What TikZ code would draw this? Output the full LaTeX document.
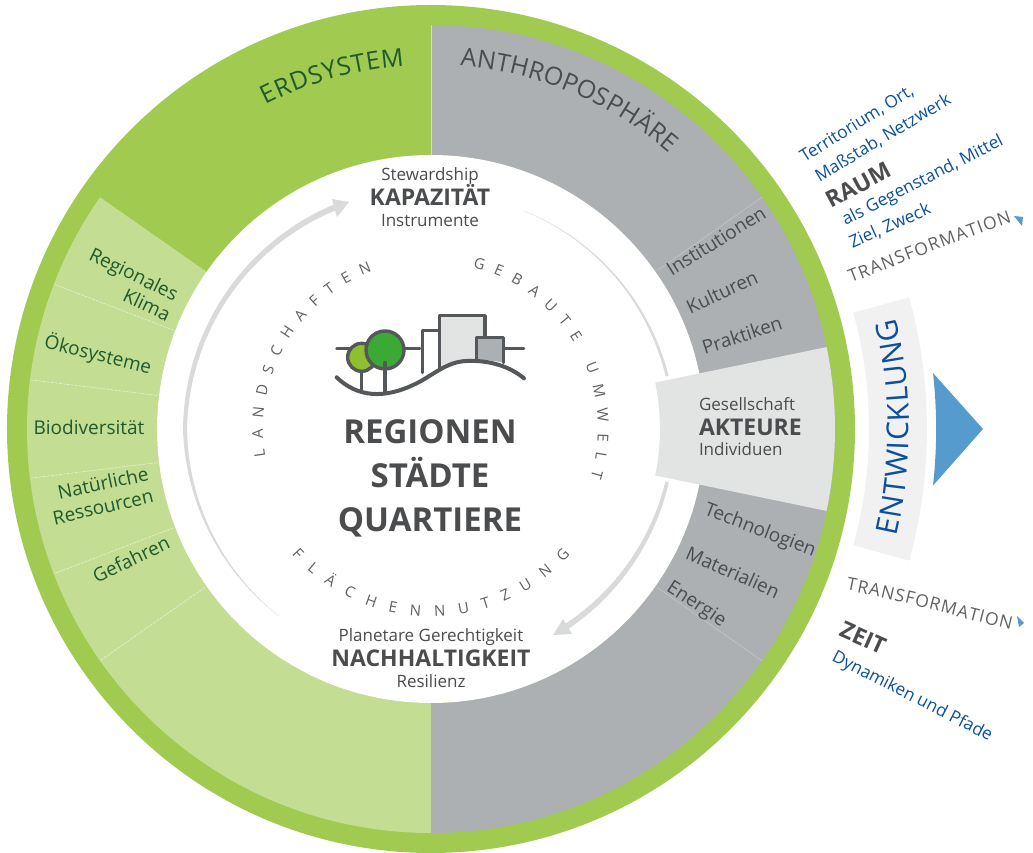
\documentclass[tikz,border=0pt]{standalone}
\usepackage{fontspec}
\setmainfont{Open Sans}
\usetikzlibrary{decorations.text}
\definecolor{ringgreen}{HTML}{A0CB50}
\definecolor{lightgreen}{HTML}{C3DD93}
\definecolor{sectorgray}{HTML}{ADB0B3}
\definecolor{paleGray}{HTML}{E2E3E3}
\definecolor{bandgray}{HTML}{F1F1F2}
\definecolor{arrowgray}{HTML}{D9DADA}
\definecolor{txtgray}{HTML}{4A4C4E}
\definecolor{txtlight}{HTML}{5F6163}
\definecolor{txtgreen}{HTML}{1F5A2E}
\definecolor{txtblue}{HTML}{0B4F9E}
\definecolor{triblue}{HTML}{559BCD}
\definecolor{icongray}{HTML}{54585A}
\definecolor{iconlime}{HTML}{8DBF2E}
\definecolor{icongreen}{HTML}{3AAA35}
\newcommand{\fs}[1]{\fontsize{#1}{#1}\selectfont}
\newcommand{\sectorfill}[5]{\fill[#1] (#2:#4pt) arc[start angle=#2,end angle=#3,radius=#4pt] -- (#3:#5pt) arc[start angle=#3,end angle=#2,radius=#5pt] -- cycle;}
% tapered arc: a0 a1 r0 r1 w0 w1
\newcommand{\taper}[6]{\fill[arrowgray] plot[domain=0:1,samples=50] ({#1+(#2-#1)*\x}:{#3+(#4-#3)*\x+(#5+(#6-#5)*\x)/2}) -- plot[domain=1:0,samples=50] ({#1+(#2-#1)*\x}:{#3+(#4-#3)*\x-(#5+(#6-#5)*\x)/2}) -- cycle;}
\newcommand{\curved}[5]{\path[decorate,decoration={text along path,text align=#1,text={|\fs{#2}\color{#3}|#4}}] #5;}
\tikzset{
  x=1pt,y=1pt,
  lab/.style={inner sep=0pt,outer sep=0pt,align=center},
  graylab/.style={lab,text=txtgray,font=\fs{17}},
  sectlab/.style={lab,text=txtgray,font=\fs{19}},
  greenlab/.style={lab,text=txtgreen,font=\fs{19}},
  bluelab/.style={lab,text=txtblue,font=\fs{17.2}},
  boldlab/.style={lab,text=txtgray,font=\bfseries\fs{23}},
  bigtext/.style={lab,text=txtgray,font=\bfseries\fs{33},anchor=base},
  sepgreen/.style={white,opacity=.6,line width=.6pt,dash pattern=on 3pt off 1pt},
  sepgray/.style={color=black!22,line width=.5pt},
  iconline/.style={icongray,line width=3.4pt,line cap=round,line join=round},
}
\begin{document}
\begin{tikzpicture}
\useasboundingbox (-431,-424) rectangle (602,429);
% rings
\fill[ringgreen] (0,0) circle[radius=424pt];
\sectorfill{lightgreen}{145}{270}{274}{404}
\sectorfill{sectorgray}{-90}{90}{274}{404}
\fill[white] (0,0) circle[radius=274pt];
\foreach \a in {159,173,187,201,215} {\draw[sepgreen] (\a:276pt) -- (\a:404pt);}
\draw[sepgray] (35:276pt) -- (35:404pt);
\draw[sepgray] (-35:276pt) -- (-35:404pt);
\draw[white,opacity=.5,line width=.5pt] (90:274pt) -- (90:404pt);
% tapered arrows
\taper{231}{180}{241}{246}{0.2}{4}
\taper{180}{112}{246}{241.5}{4}{6}
\taper{67}{12.6}{237}{242}{0.2}{3}
\taper{-12.6}{-57}{242}{239.5}{3.5}{6}
\fill[arrowgray] (349-431,429-202) -- (332-431,429-199) -- (337-431,429-217) -- cycle;
\fill[arrowgray] (553-431,429-635) -- (563-431,429-619) -- (572-431,429-634) -- cycle;
% Akteure
\sectorfill{paleGray}{-11.7}{11.7}{229}{404}
% Entwicklung band
\sectorfill{bandgray}{-15.4}{15.4}{438}{496}
\fill[triblue] (502,56) arc[start angle=6.4,end angle=-6.4,radius=505pt] -- (552,0) -- cycle;
\fill[triblue] (1014-431,429-216) -- (1023-431,429-217) -- (1022-431,429-226) -- cycle;
\fill[triblue] (1017-431,429-616) -- (1024-431,429-623) -- (1019-431,429-627) -- cycle;
% curved titles
\curved{fit to path}{25}{txtgreen}{ERDSYSTEM}{(117:364pt) arc[start angle=117,end angle=94.2,radius=364pt]}
\curved{fit to path}{25}{txtgray}{ANTHROPOSPHÄRE}{(85.4:364.5pt) arc[start angle=85.4,end angle=49.2,radius=364.5pt]}
\curved{fit to path}{15}{txtlight}{LANDSCHAFTEN}{(189.5:168pt) arc[start angle=189.5,end angle=110.5,radius=168pt]}
\curved{fit to path}{15}{txtlight}{GEBAUTE UMWELT}{(75.5:167pt) arc[start angle=75.5,end angle=-17,radius=167pt]}
\curved{fit to path}{15}{txtlight}{FLÄCHENNUTZUNG}{(222:187.5pt) arc[start angle=222,end angle=318,radius=187.5pt]}
\curved{fit to path}{30}{txtblue}{ENTWICKLUNG}{(-13:478pt) arc[start angle=-13,end angle=13.4,radius=478pt]}
\curved{fit to path}{17.5}{txtlight}{TRANSFORMATION}{(851-431,429-283) .. controls (905-431,429-262) and (960-431,429-240) .. (1012-431,429-222)}
\curved{fit to path}{17.5}{txtlight}{TRANSFORMATION}{(846-431,429-590) .. controls (900-431,429-600) and (960-431,429-618) .. (1011-431,429-630)}
% centre text
\node[bigtext] (regionen) at (430-431,429-444) {REGIONEN};
\node[bigtext] (staedte) at (430-431,429-488) {STÄDTE};
\node[bigtext] (quartiere) at (430-431,429-532) {QUARTIERE};
% top & bottom
\node[graylab,anchor=base] (stew) at (430-431,429-181) {Stewardship};
\node[boldlab,anchor=base] (kap) at (430-431,429-206) {KAPAZITÄT};
\node[graylab,anchor=base] (instr) at (430-431,429-227) {Instrumente};
\node[graylab,anchor=base] (plan) at (431-431,429-642) {Planetare Gerechtigkeit};
\node[boldlab,anchor=base] (nach) at (431-431,429-666) {NACHHALTIGKEIT};
\node[graylab,anchor=base] (resi) at (431-431,429-687) {Resilienz};
% Akteure text
\node[graylab,anchor=base west] (ges) at (699-431,429-411) {Gesellschaft};
\node[boldlab,anchor=base west] (akt) at (699-431,429-436) {AKTEURE};
\node[graylab,anchor=base west] (ind) at (699-431,429-456) {Individuen};
% gray sector labels
\node[sectlab,rotate=32] (inst) at (716-431,429-241) {Institutionen};
\node[sectlab,rotate=25] (kult) at (722-431,429-292) {Kulturen};
\node[sectlab,rotate=18] (prak) at (742-431,429-335) {Praktiken};
\node[sectlab,rotate=-21] (tech) at (760-431,429-531) {Technologien};
\node[sectlab,rotate=-24] (mat) at (733-431,429-572) {Materialien};
\node[sectlab,rotate=-33] (ener) at (696-431,429-605) {Energie};
% green labels
\node[greenlab,rotate=-26] (reg) at (133-431,429-276) {Regionales};
\node[greenlab,rotate=-25] (klima) at (147-431,429-305) {Klima};
\node[greenlab,rotate=-14] (oeko) at (98-431,429-355) {Ökosysteme};
\node[greenlab] (bio) at (89-431,429-427) {Biodiversität};
\node[greenlab,rotate=12] (natur) at (103-431,429-483) {Natürliche};
\node[greenlab,rotate=13] (ress) at (103-431,429-507) {Ressourcen};
\node[greenlab,rotate=26] (gef) at (131-431,429-559) {Gefahren};
% right labels
\node[bluelab,rotate=32] (terr) at (857-431,429-124) {Territorium, Ort,};
\node[bluelab,rotate=31] (mass) at (883-431,429-138) {Maßstab, Netzwerk};
\node[boldlab,rotate=28] (raum) at (858-431,429-185) {RAUM};
\node[bluelab,rotate=27] (gegen) at (923-431,429-181) {als Gegenstand, Mittel};
\node[bluelab,rotate=24] (ziel) at (890-431,429-226) {Ziel, Zweck};
\node[boldlab,rotate=-24] (zeit) at (863-431,429-638) {ZEIT};
\node[bluelab,rotate=-27] (dyn) at (912-431,429-697) {Dynamiken und Pfade};
% icon
\begin{scope}[shift={(-111,129)},x=0.3333pt,y=-0.3333pt]
  \fill[paleGray] (358,47) -- (495,47) -- (495,112) -- (470,112) -- (470,180) -- (440,183) .. controls (410,184) and (385,195) .. (358,205) -- cycle;
  \fill[sectorgray] (470,112) -- (550,112) -- (550,188) .. controls (525,182) and (495,180) .. (470,180) -- cycle;
  \draw[iconline,line width=2.8pt] (50,145) -- (300,145);
  \draw[iconline,line width=2.8pt] (550,145) -- (612,145);
  \draw[iconline] (308,218) -- (308,92) -- (358,92);
  \draw[iconline] (358,205) -- (358,47) -- (495,47) -- (495,110);
  \draw[iconline] (470,180) -- (470,112) -- (550,112) -- (550,188);
  \draw[iconline,fill=iconlime] (125,172) circle[radius=14pt];
  \draw[iconline] (125,215) -- (125,268);
  \draw[iconline,fill=icongreen] (195,150) circle[radius=19pt];
  \draw[iconline] (195,188) -- (195,275);
  \draw[iconline,line width=4pt] (50,232) .. controls (110,290) and (190,300) .. (290,250) .. controls (340,225) and (380,185) .. (440,183) .. controls (510,180) and (570,200) .. (612,235);
\end{scope}
\end{tikzpicture}
\end{document}
